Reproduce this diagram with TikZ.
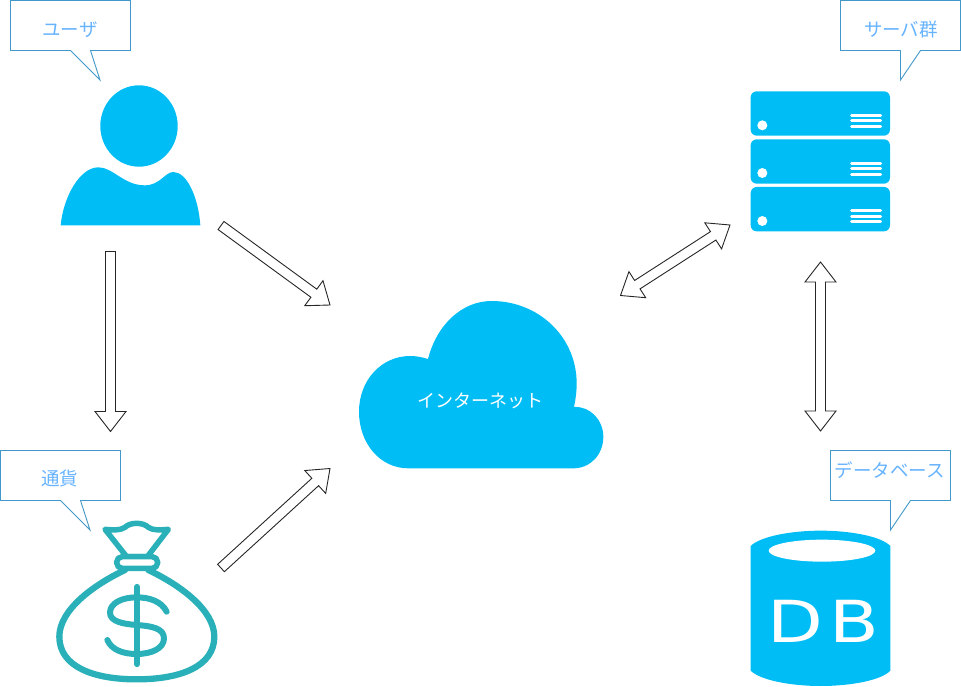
\documentclass[tikz,border=0pt]{standalone}
\usepackage{fontspec}
\setsansfont{DejaVu Sans}
\newfontfamily\cjk{Noto Sans CJK JP}
\usetikzlibrary{calc}
\definecolor{iconblue}{HTML}{00BEF5}
\definecolor{calloutline}{HTML}{4298C8}
\definecolor{callouttext}{HTML}{66B3FF}
\definecolor{bagteal}{HTML}{2AB0B8}
\tikzset{
  callout/.style={draw=calloutline,line width=0.9pt,fill=white,line join=miter},
  callouttxt/.style={font=\cjk\fontsize{18.5}{20}\selectfont,text=callouttext,inner sep=0pt},
  cloudtxt/.style={font=\cjk\fontsize{18}{20}\selectfont,text=white,inner sep=0pt},
  blockline/.style={draw=black!85,line width=0.9pt,fill=white,line join=miter},
  icon/.style={fill=iconblue,draw=none},
  bagline/.style={draw=bagteal,line cap=round,line join=round},
}
% block arrows between named coordinates
\newcommand{\arrowframe}[2]{%
  \pgfpointdiff{\pgfpointanchor{#1}{center}}{\pgfpointanchor{#2}{center}}%
  \pgfgetlastxy{\adx}{\ady}%
  \pgfmathsetmacro{\aang}{atan2(\ady,\adx)}%
  \pgfmathsetmacro{\alen}{veclen(\adx,\ady)}%
  \pgfmathsetmacro{\abase}{\alen-20}%
}
\newcommand{\singlearrow}[2]{%
  \arrowframe{#1}{#2}%
  \draw[blockline,shift={(#1)},rotate=\aang]
    (0pt,5pt) -- (\abase pt,5pt) -- (\abase pt,15.5pt) -- (\alen pt,0pt)
    -- (\abase pt,-15.5pt) -- (\abase pt,-5pt) -- (0pt,-5pt) -- cycle;
}
\newcommand{\doublearrow}[2]{%
  \arrowframe{#1}{#2}%
  \draw[blockline,shift={(#1)},rotate=\aang]
    (0pt,0pt) -- (20pt,15.5pt) -- (20pt,5pt) -- (\abase pt,5pt) -- (\abase pt,15.5pt) -- (\alen pt,0pt)
    -- (\abase pt,-15.5pt) -- (\abase pt,-5pt) -- (20pt,-5pt) -- (20pt,-15.5pt) -- cycle;
}
\begin{document}
\begin{tikzpicture}[x=1pt,y=-1pt]
\useasboundingbox (0,0) rectangle (961,687);

% user icon
\fill[icon] (139,126) ellipse [x radius=38.7,y radius=40.7];
\begin{scope}[scale=1/3]
\fill[icon] (182,676) .. controls (190,590) and (240,502) .. (295,502)
  .. controls (340,502) and (370,556) .. (435,556)
  .. controls (480,556) and (495,516) .. (520,516)
  .. controls (560,516) and (595,590) .. (601,676) -- cycle;
\end{scope}

% money bag icon
\begin{scope}[shift={(0,440)},scale=1/3]
\draw[bagline,line width=5.5pt] (315,268) .. controls (340,270) and (360,272) .. (375,262)
  .. controls (390,246) and (430,246) .. (445,262)
  .. controls (460,272) and (480,270) .. (505,268)
  -- (442,350) -- (380,350) -- cycle;
\draw[bagline,line width=5.5pt,fill=white,rounded corners=5.5pt] (350,350) rectangle (473,385);
\draw[bagline,line width=6.3pt] (375,390) .. controls (280,435) and (178,510) .. (178,590)
  .. controls (178,680) and (280,718) .. (410,718)
  .. controls (540,718) and (643,680) .. (643,590)
  .. controls (643,510) and (540,435) .. (445,390);
\draw[bagline,line width=6.3pt] (411,441) -- (411,672);
\draw[bagline,line width=6pt] (500,515) .. controls (485,485) and (450,472) .. (410,472)
  .. controls (365,472) and (330,490) .. (330,518)
  .. controls (330,545) and (370,552) .. (410,555)
  .. controls (455,558) and (492,565) .. (492,595)
  .. controls (492,625) and (455,642) .. (410,642)
  .. controls (370,642) and (335,630) .. (322,600);
\end{scope}

% cloud icon
\begin{scope}[shift={(340,290)},scale=1/3]
\fill[icon] (205,535) .. controls (120,535) and (57,460) .. (57,365)
  .. controls (57,270) and (125,198) .. (210,198)
  .. controls (230,198) and (248,202) .. (264,207)
  .. controls (290,105) and (365,33) .. (455,33)
  .. controls (595,33) and (710,140) .. (710,280)
  .. controls (710,305) and (707,328) .. (702,351)
  .. controls (750,348) and (790,390) .. (790,440)
  .. controls (790,495) and (750,535) .. (700,535) -- cycle;
\end{scope}
\node[cloudtxt] (cloudlabel) at (480.5,401) {インターネット};

% server icon
\begin{scope}[shift={(730,0)},scale=1/3]
\foreach \t/\a/\b/\c/\d in {274/376/346/363/379,418/519/490/507/523,561/663/633/650/666}{
  \fill[icon,rounded corners=6pt] (62,\t) rectangle (480,\t+133);
  \fill[white] (97,\a) circle (15);
  \foreach \yy in {\b,\c,\d}{
    \draw[white,line width=3pt,line cap=round] (365,\yy) -- (452,\yy);
  }
}
\end{scope}

% database icon
\begin{scope}[shift={(730,440)},scale=1/3]
\fill[icon] (62,318) .. controls (90,290) and (180,272) .. (272,272)
  .. controls (365,272) and (455,290) .. (481,318)
  -- (481,692) .. controls (455,720) and (365,738) .. (272,738)
  .. controls (180,738) and (90,720) .. (62,692) -- cycle;
\fill[white] (276,332) ellipse [x radius=160,y radius=33];
\end{scope}
\node[font=\sffamily\fontsize{58}{60}\selectfont,text=white,inner sep=0pt] (dblabel) at (823.5,621.5) {\scalebox{1.25}[1]{D\hspace{5pt}B}};

% callouts
\draw[callout] (10.5,0.5) -- (130.5,0.5) -- (130.5,50.5) -- (90.5,50.5) -- (100,80) -- (70.5,50.5) -- (10.5,50.5) -- cycle;
\node[callouttxt] (userlabel) at (70,29.5) {ユーザ};
\draw[callout] (0.5,450.5) -- (120.5,450.5) -- (120.5,500.5) -- (80.5,500.5) -- (90,530) -- (60.5,500.5) -- (0.5,500.5) -- cycle;
\node[callouttxt] (moneylabel) at (59.5,478) {通貨};
\draw[callout] (840.5,0.5) -- (960.5,0.5) -- (960.5,50.5) -- (920.5,50.5) -- (900.5,80) -- (900.5,50.5) -- (840.5,50.5) -- cycle;
\node[callouttxt] (serverlabel) at (901,29.5) {サーバ群};
\draw[callout] (830.5,450.5) -- (950.5,450.5) -- (950.5,500.5) -- (910.5,500.5) -- (890.5,530) -- (890.5,500.5) -- (830.5,500.5) -- cycle;
\node[callouttxt] (dbcalloutlabel) at (890,470.5) {データベース};

% block arrows
\coordinate (userdown) at (110.5,251.5);
\coordinate (moneyup) at (110.5,431.5);
\coordinate (useroff) at (221,225.5);
\coordinate (cloudnw) at (330,305);
\coordinate (moneyoff) at (221,568);
\coordinate (cloudsw) at (330,468.5);
\coordinate (cloudne) at (620.5,295.5);
\coordinate (serversw) at (730,225);
\coordinate (serverdown) at (820.5,262);
\coordinate (dbup) at (820.5,431);
\singlearrow{userdown}{moneyup}
\singlearrow{useroff}{cloudnw}
\singlearrow{moneyoff}{cloudsw}
\doublearrow{cloudne}{serversw}
\doublearrow{serverdown}{dbup}
\end{tikzpicture}
\end{document}
